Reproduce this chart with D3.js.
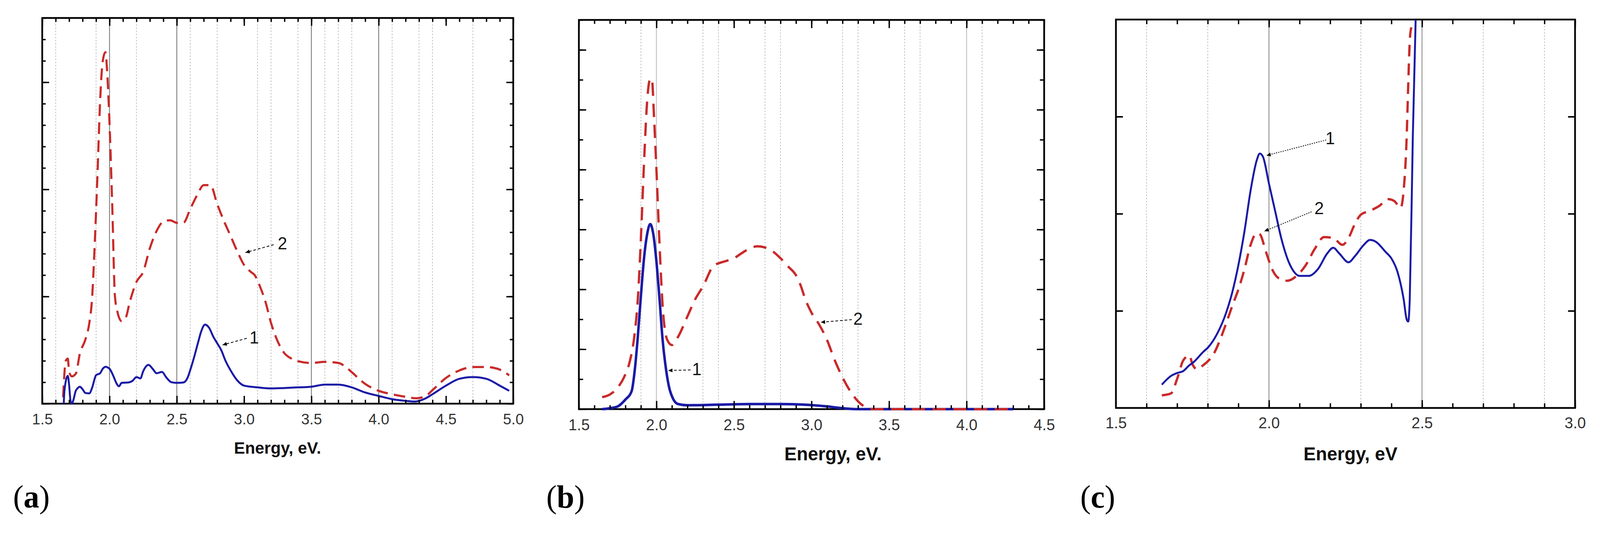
<!DOCTYPE html>
<html>
<head>
<meta charset="utf-8">
<script src="https://cdn.jsdelivr.net/npm/d3@7"></script>
<style>
  html, body { margin: 0; padding: 0; background: #fff; overflow: hidden; }
  svg { display: block; width: 100vw; height: 100vh; }
</style>
</head>
<body>
<div id="chart"></div>
<script>
// ---- panel (a): energy (eV), intensity (arb. units) ----
var aCurve1 = [[1.66,0],[1.665,0.6],[1.69,1.3],[1.70,0.85],[1.71,0.14],[1.72,0],[1.73,0.14],[1.75,0.61],
  [1.76,0.7],[1.78,0.79],[1.80,0.67],[1.82,0.5],[1.85,0.48],[1.87,0.73],[1.90,1.33],[1.93,1.42],[1.95,1.63],
  [1.97,1.72],[2.0,1.63],[2.03,1.27],[2.05,0.97],[2.07,0.81],[2.09,0.97],[2.14,0.99],[2.17,1.06],[2.2,1.24],
  [2.23,1.18],[2.25,1.51],[2.29,1.81],[2.32,1.63],[2.35,1.42],[2.39,1.48],[2.42,1.24],[2.46,1.0],[2.5,0.97],
  [2.55,0.99],[2.58,1.21],[2.6,1.57],[2.63,2.2],[2.66,2.9],[2.68,3.35],[2.71,3.69],[2.74,3.54],[2.77,3.14],
  [2.8,2.82],[2.83,2.5],[2.86,2.03],[2.9,1.55],[2.95,1.08],[3.0,0.84],[3.1,0.76],[3.2,0.71],[3.3,0.73],
  [3.4,0.76],[3.5,0.79],[3.6,0.89],[3.7,0.89],[3.8,0.76],[3.9,0.52],[4.0,0.36],[4.1,0.21],[4.2,0.13],
  [4.27,0.1],[4.35,0.25],[4.4,0.44],[4.5,0.84],[4.6,1.16],[4.7,1.24],[4.8,1.16],[4.9,0.84],[4.97,0.6]];
var aCurve2 = [[1.655,0.3],[1.675,2.0],[1.69,2.1],[1.70,1.5],[1.72,1.27],[1.75,1.4],[1.78,2.35],[1.82,2.98],
  [1.85,3.77],[1.87,4.88],[1.89,7.42],[1.91,10.6],[1.93,14.1],[1.95,16.0],[1.97,16.4],[1.985,15.2],[2.0,13.1],
  [2.02,9.3],[2.04,5.04],[2.06,4.25],[2.09,3.85],[2.12,4.0],[2.15,4.73],[2.2,5.68],[2.25,6.15],[2.3,7.26],
  [2.35,8.06],[2.4,8.5],[2.45,8.56],[2.5,8.44],[2.55,8.45],[2.6,9.09],[2.65,9.72],[2.7,10.2],[2.75,10.2],
  [2.8,9.32],[2.85,8.53],[2.9,7.82],[2.95,7.1],[3.0,6.47],[3.05,6.15],[3.08,5.99],[3.12,5.44],[3.16,4.73],
  [3.2,3.77],[3.25,2.9],[3.3,2.35],[3.35,2.11],[3.4,1.98],[3.5,1.9],[3.6,1.95],[3.7,1.9],[3.75,1.74],
  [3.8,1.47],[3.9,0.92],[4.0,0.6],[4.1,0.44],[4.2,0.32],[4.28,0.25],[4.35,0.36],[4.4,0.63],[4.5,1.2],
  [4.6,1.55],[4.7,1.71],[4.8,1.71],[4.9,1.59],[4.97,1.32]];
var aXLabels = ['1.5','2.0','2.5','3.0','3.5','4.0','4.5','5.0'];
var aGridSolid = [2.0, 2.5, 3.5, 4.0];
var aGridDotted = [1.6, 1.9, 2.2, 2.6, 2.8, 3.1, 3.2, 3.4, 3.6, 3.7, 3.8, 4.1, 4.3, 4.4, 4.7];

// ---- panel (b) ----
var bCurve1 = [[1.65,0],[1.7,0.03],[1.75,0.09],[1.8,0.32],[1.84,0.6],[1.86,1.29],[1.88,2.42],[1.9,3.79],
  [1.92,5.04],[1.94,5.84],[1.96,6.18],[1.98,5.84],[2.0,4.93],[2.02,3.67],[2.04,2.31],[2.06,1.4],[2.08,0.77],
  [2.11,0.32],[2.14,0.17],[2.2,0.13],[2.4,0.15],[2.6,0.17],[2.8,0.17],[2.95,0.15],[3.1,0.09],[3.2,0.03],
  [3.3,0],[3.6,0],[4.0,0],[4.3,0]];
var bCurve2 = [[1.65,0.4],[1.7,0.49],[1.75,0.72],[1.8,1.17],[1.83,1.63],[1.86,2.54],[1.88,3.67],[1.9,5.72],
  [1.92,8.23],[1.94,10.27],[1.955,10.96],[1.97,11.05],[1.985,9.7],[2.0,8.0],[2.02,5.5],[2.04,3.45],[2.07,2.31],
  [2.1,2.14],[2.14,2.42],[2.2,3.1],[2.25,3.67],[2.3,4.1],[2.37,4.8],[2.4,4.87],[2.45,4.95],[2.5,5.04],
  [2.55,5.21],[2.6,5.36],[2.65,5.44],[2.7,5.4],[2.75,5.27],[2.8,5.04],[2.85,4.76],[2.9,4.47],[2.93,4.13],
  [2.96,3.67],[3.0,3.22],[3.05,2.82],[3.1,2.31],[3.15,1.63],[3.2,1.06],[3.25,0.6],[3.3,0.26],[3.35,0.06],
  [3.4,0],[3.6,0],[3.8,0],[4.0,0],[4.3,0]];
var bXLabels = ['1.5','2.0','2.5','3.0','3.5','4.0','4.5'];
var bGridSolid = [2.0, 4.0];
var bGridDotted = [1.9, 2.3, 2.4, 2.7, 2.8, 3.2, 3.3, 3.6, 3.7, 4.1];

// ---- panel (c) ----
var cCurve1 = [[1.65,0.24],[1.68,0.33],[1.7,0.36],[1.72,0.38],[1.74,0.44],[1.753,0.47],[1.786,0.58],[1.8,0.62],
  [1.83,0.76],[1.86,0.98],[1.88,1.19],[1.9,1.47],[1.92,1.82],[1.94,2.24],[1.96,2.55],[1.97,2.62],[1.98,2.59],
  [2.0,2.31],[2.02,2.03],[2.04,1.75],[2.06,1.54],[2.08,1.41],[2.1,1.36],[2.13,1.36],[2.16,1.43],[2.19,1.59],
  [2.21,1.65],[2.23,1.59],[2.26,1.5],[2.28,1.56],[2.31,1.68],[2.33,1.73],[2.35,1.71],[2.38,1.61],[2.4,1.54],
  [2.42,1.4],[2.44,1.12],[2.45,0.91],[2.455,0.89],[2.46,1.12],[2.47,2.8],[2.48,4.1]];
var cCurve2 = [[1.65,0.13],[1.68,0.15],[1.7,0.3],[1.72,0.49],[1.74,0.54],[1.75,0.45],[1.765,0.4],[1.785,0.44],
  [1.8,0.48],[1.82,0.56],[1.84,0.7],[1.86,0.87],[1.88,1.05],[1.9,1.22],[1.92,1.43],[1.94,1.68],[1.96,1.8],
  [1.97,1.79],[1.99,1.61],[2.01,1.43],[2.03,1.34],[2.06,1.31],[2.09,1.36],[2.12,1.47],[2.15,1.64],[2.18,1.76],
  [2.21,1.75],[2.24,1.68],[2.26,1.75],[2.28,1.89],[2.3,1.99],[2.33,2.03],[2.36,2.08],[2.39,2.15],[2.41,2.13],
  [2.43,2.06],[2.44,2.24],[2.45,2.8],[2.455,3.33],[2.46,3.78],[2.465,3.92]];
var cXLabels = ['1.5','2.0','2.5','3.0'];
var cGridSolid = [2.0, 2.5];
var cGridDotted = [1.6, 1.8, 2.3, 2.7, 2.9];

var BLUE = '#1a1aa6';
var RED = '#c92a2a';

var svg = d3.select('#chart').append('svg')
  .attr('viewBox', '0 0 4168 1364')
  .attr('preserveAspectRatio', 'none');

var defs = svg.append('defs');
defs.append('marker')
  .attr('id', 'arrow')
  .attr('viewBox', '0 0 10 10')
  .attr('refX', 10)
  .attr('refY', 5)
  .attr('markerWidth', 17)
  .attr('markerHeight', 11)
  .attr('markerUnits', 'userSpaceOnUse')
  .attr('orient', 'auto')
  .append('path')
  .attr('d', 'M0,0.5 L10,5 L0,9.5 z')
  .attr('fill', '#000');

var panels = [
  {
    id: 'a', left: 110, right: 1337, top: 46, bottom: 1033,
    xDomain: [1.5, 5.0], yDomain: [0, 18],
    xMinor: d3.range(15, 51).map(function (d) { return d / 10; }),
    xLabels: aXLabels, xMinorLen: 10, xMajorLen: 20, labelPad: 25, labelSize: 39,
    yMinor: d3.range(0, 19), yMajor: [0, 5, 10, 15], yMinorLen: 9, yMajorLen: 18,
    gridSolid: aGridSolid, gridDotted: aGridDotted, gridSolidColor: '#7a7a7a',
    curves: [
      { data: aCurve2, color: RED, width: 5.5, dash: '30,16' },
      { data: aCurve1, color: BLUE, width: 5 }
    ],
    notes: [
      { text: '2', lx: 3.285, ly: 7.5, tx: 3.22, ty: 7.42, hx: 3.01, hy: 7.05, dash: '7,5' },
      { text: '1', lx: 3.075, ly: 3.1, tx: 3.02, ty: 3.05, hx: 2.84, hy: 2.74, dash: '7,5' }
    ],
    title: 'Energy, eV.', titleX: 723, titleY: 1161, titleSize: 43,
    tag: 'a', tagX: 34, tagY: 1299
  },
  {
    id: 'b', left: 1508, right: 2720, top: 51, bottom: 1047,
    xDomain: [1.5, 4.5], yDomain: [0, 13],
    xMinor: d3.range(15, 46).map(function (d) { return d / 10; }),
    xLabels: bXLabels, xMinorLen: 10, xMajorLen: 21, labelPad: 26, labelSize: 40,
    yMinor: d3.range(0, 14), yMajor: d3.range(0, 14, 2), yMinorLen: 11, yMajorLen: 19,
    gridSolid: bGridSolid, gridDotted: bGridDotted, gridSolidColor: '#bdbdbd',
    curves: [
      { data: bCurve1, color: BLUE, width: 6.5 },
      { data: bCurve2, color: RED, width: 6, dash: '34,20' }
    ],
    notes: [
      { text: '1', lx: 2.26, ly: 1.34, tx: 2.22, ty: 1.31, hx: 2.076, hy: 1.29, dash: '7,5' },
      { text: '2', lx: 3.3, ly: 3.03, tx: 3.26, ty: 2.99, hx: 3.06, hy: 2.9, dash: '7,5' }
    ],
    title: 'Energy, eV.', titleX: 2170, titleY: 1178, titleSize: 48,
    tag: 'b', tagX: 1423, tagY: 1299
  },
  {
    id: 'c', left: 2907, right: 4103, top: 50, bottom: 1044,
    xDomain: [1.5, 3.0], yDomain: [0, 4],
    xMinor: d3.range(15, 31).map(function (d) { return d / 10; }),
    xLabels: cXLabels, xMinorLen: 12, xMajorLen: 20, labelPad: 24, labelSize: 40,
    yMinor: [1, 2, 3], yMajor: [1, 2, 3], yMinorLen: 18, yMajorLen: 18,
    gridSolid: cGridSolid, gridDotted: cGridDotted, gridSolidColor: '#8a8a8a',
    curves: [
      { data: cCurve2, color: RED, width: 6, dash: '30,18' },
      { data: cCurve1, color: BLUE, width: 5 }
    ],
    notes: [
      { text: '1', lx: 2.2, ly: 2.78, tx: 2.187, ty: 2.76, hx: 1.992, hy: 2.6, dash: '3,3' },
      { text: '2', lx: 2.164, ly: 2.06, tx: 2.139, ty: 2.02, hx: 1.985, hy: 1.82, dash: '3,3' }
    ],
    title: 'Energy, eV', titleX: 3518, titleY: 1178, titleSize: 48,
    tag: 'c', tagX: 2814, tagY: 1299
  }
];

function styleAxis(sel, p) {
  sel.select('.domain').remove();
  sel.selectAll('.tick line')
    .attr('stroke', '#000')
    .attr('stroke-width', 3.5);
  sel.selectAll('.tick text')
    .attr('fill', '#333')
    .attr('font-family', '"Liberation Sans", Arial, sans-serif')
    .attr('font-size', p.labelSize);
}

function drawPanel(p) {
  var g = svg.append('g').attr('class', 'panel-' + p.id);

  var x = d3.scaleLinear().domain(p.xDomain).range([p.left, p.right]);
  var y = d3.scaleLinear().domain(p.yDomain).range([p.bottom, p.top]);

  defs.append('clipPath')
    .attr('id', 'clip-' + p.id)
    .append('rect')
    .attr('x', p.left)
    .attr('y', p.top)
    .attr('width', p.right - p.left)
    .attr('height', p.bottom - p.top + 4);

  // grid lines
  g.selectAll('line.grid-dot')
    .data(p.gridDotted)
    .join('line')
    .attr('class', 'grid-dot')
    .attr('x1', function (d) { return x(d); })
    .attr('x2', function (d) { return x(d); })
    .attr('y1', p.top)
    .attr('y2', p.bottom)
    .attr('stroke', '#b3b3b3')
    .attr('stroke-width', 1.6)
    .attr('stroke-dasharray', '4,4');

  g.selectAll('line.grid-solid')
    .data(p.gridSolid)
    .join('line')
    .attr('class', 'grid-solid')
    .attr('x1', function (d) { return x(d); })
    .attr('x2', function (d) { return x(d); })
    .attr('y1', p.top)
    .attr('y2', p.bottom)
    .attr('stroke', p.gridSolidColor)
    .attr('stroke-width', 2.2);

  // frame (under the curves, so curves lying on zero stay visible)
  g.append('rect')
    .attr('x', p.left)
    .attr('y', p.top)
    .attr('width', p.right - p.left)
    .attr('height', p.bottom - p.top)
    .attr('fill', 'none')
    .attr('stroke', '#000')
    .attr('stroke-width', 4.5);

  // curves
  var line = d3.line()
    .x(function (d) { return x(d[0]); })
    .y(function (d) { return y(d[1]); })
    .curve(d3.curveMonotoneX);

  p.curves.forEach(function (c) {
    g.append('path')
      .datum(c.data)
      .attr('d', line)
      .attr('fill', 'none')
      .attr('stroke', c.color)
      .attr('stroke-width', c.width)
      .attr('stroke-linejoin', 'round')
      .attr('stroke-dasharray', c.dash || null)
      .attr('clip-path', 'url(#clip-' + p.id + ')');
  });

  // x ticks (bottom and top), pointing inwards
  var labelValues = p.xLabels.map(Number);

  g.append('g')
    .attr('transform', 'translate(0,' + p.bottom + ')')
    .call(d3.axisBottom(x).tickValues(p.xMinor).tickSize(-p.xMinorLen).tickSizeOuter(0).tickFormat(''))
    .call(styleAxis, p);

  g.append('g')
    .attr('transform', 'translate(0,' + p.bottom + ')')
    .call(d3.axisBottom(x)
      .tickValues(labelValues)
      .tickSize(-p.xMajorLen)
      .tickSizeOuter(0)
      .tickPadding(p.labelPad)
      .tickFormat(function (d) { return p.xLabels[labelValues.indexOf(d)]; }))
    .call(styleAxis, p);

  g.append('g')
    .attr('transform', 'translate(0,' + p.top + ')')
    .call(d3.axisTop(x).tickValues(p.xMinor).tickSize(-p.xMinorLen).tickSizeOuter(0).tickFormat(''))
    .call(styleAxis, p);

  g.append('g')
    .attr('transform', 'translate(0,' + p.top + ')')
    .call(d3.axisTop(x).tickValues(labelValues).tickSize(-p.xMajorLen).tickSizeOuter(0).tickFormat(''))
    .call(styleAxis, p);

  // y ticks (left and right), no labels
  [[d3.axisLeft, p.left], [d3.axisRight, p.right]].forEach(function (side) {
    g.append('g')
      .attr('transform', 'translate(' + side[1] + ',0)')
      .call(side[0](y).tickValues(p.yMinor).tickSize(-p.yMinorLen).tickSizeOuter(0).tickFormat(''))
      .call(styleAxis, p);
    g.append('g')
      .attr('transform', 'translate(' + side[1] + ',0)')
      .call(side[0](y).tickValues(p.yMajor).tickSize(-p.yMajorLen).tickSizeOuter(0).tickFormat(''))
      .call(styleAxis, p);
  });

  // curve labels with arrows
  p.notes.forEach(function (n) {
    g.append('line')
      .attr('x1', x(n.tx))
      .attr('y1', y(n.ty))
      .attr('x2', x(n.hx))
      .attr('y2', y(n.hy))
      .attr('stroke', '#000')
      .attr('stroke-width', 2)
      .attr('stroke-dasharray', n.dash)
      .attr('marker-end', 'url(#arrow)');
    g.append('text')
      .attr('x', x(n.lx))
      .attr('y', y(n.ly))
      .attr('dy', '0.36em')
      .attr('text-anchor', 'middle')
      .attr('font-family', '"Liberation Sans", Arial, sans-serif')
      .attr('font-size', 44)
      .attr('fill', '#111')
      .text(n.text);
  });

  // axis title
  g.append('text')
    .attr('x', p.titleX)
    .attr('y', p.titleY)
    .attr('text-anchor', 'middle')
    .attr('font-family', '"Liberation Sans", Arial, sans-serif')
    .attr('font-weight', 'bold')
    .attr('font-size', p.titleSize)
    .attr('fill', '#111')
    .text(p.title);

  // panel tag
  var tag = g.append('text')
    .attr('x', p.tagX)
    .attr('y', p.tagY)
    .attr('font-family', '"Liberation Serif", "Times New Roman", serif')
    .attr('font-size', 82)
    .attr('fill', '#000');
  tag.append('tspan').text('(');
  tag.append('tspan').attr('font-weight', 'bold').text(p.tag);
  tag.append('tspan').text(')');
}

panels.forEach(drawPanel);
</script>
</body>
</html>
